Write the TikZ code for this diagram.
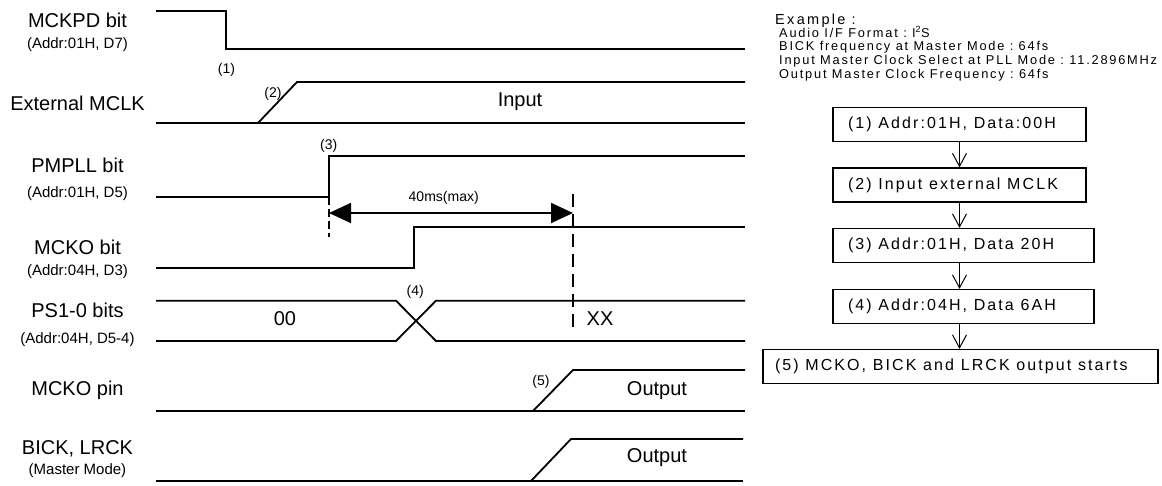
\documentclass[tikz,border=0pt]{standalone}
\usepackage{fontspec}
\setmainfont{Liberation Sans}
\newfontfamily\boxfont[LetterSpace=13]{Liberation Sans}
\newfontfamily\exfont[LetterSpace=14]{Liberation Sans}
\newfontfamily\exhead[LetterSpace=16]{Liberation Sans}
\newcommand\wgap{\hspace{0.42em}\ignorespaces}
\usetikzlibrary{arrows.meta}
\begin{document}
\begin{tikzpicture}[x=1pt,y=-1pt,
  wave/.style={line width=1.8pt},
  lbl/.style={font=\fontsize{20}{24}\selectfont, inner sep=0pt},
  sub/.style={font=\fontsize{15}{18}\selectfont, inner sep=0pt},
  val/.style={font=\fontsize{20}{24}\selectfont, inner sep=0pt},
  num/.style={font=\fontsize{14}{16}\selectfont, inner sep=0pt},
  flowbox/.style={draw, line width=1.2pt, minimum height=34pt, inner xsep=15pt, inner ysep=0pt, align=left, font={\boxfont\fontsize{16}{18}\selectfont}},
  exline/.style={font={\exfont\fontsize{12.8}{14}\selectfont}, inner sep=0pt, anchor=base west},
  flowarrow/.style={line width=1pt, -{Straight Barb[length=13pt,width=14pt]}},
  dimarrow/.style={line width=1.8pt, {Triangle[length=22pt,width=20pt]}-{Triangle[length=22pt,width=20pt]}},
  guide/.style={line width=1.5pt}
]
\useasboundingbox (0,0) rectangle (1162,485);

% ---------- left labels ----------
\node[lbl] (l1) at (77.5,20.8) {MCKPD bit};
\node[sub] (l1s) at (77.5,45) {(Addr:01H, D7)};
\node[lbl] (l2) at (77.5,103.5) {External MCLK};
\node[lbl] (l3) at (77.5,165.5) {PMPLL bit};
\node[sub] (l3s) at (77.5,193.7) {(Addr:01H, D5)};
\node[lbl] (l4) at (77.5,247) {MCKO bit};
\node[sub] (l4s) at (77.5,271.5) {(Addr:04H, D3)};
\node[lbl] (l5) at (77.5,310.5) {PS1-0 bits};
\node[sub] (l5s) at (77.5,339.3) {(Addr:04H, D5-4)};
\node[lbl] (l6) at (77.5,390.5) {MCKO pin};
\node[lbl] (l7) at (77.5,449) {BICK, LRCK};
\node[sub] (l7s) at (77.5,470.5) {(Master Mode)};

% ---------- waveforms ----------
% MCKPD
\draw[wave] (156,10.7) -- (226,10.7) -- (226,49) -- (745,49);
% External MCLK
\draw[wave] (156,123) -- (745,123);
\draw[wave] (258,123) -- (297,82) -- (745,82);
% PMPLL
\draw[wave] (156,197) -- (329,197) -- (329,156) -- (745,156);
% MCKO bit
\draw[wave] (156,268) -- (414,268) -- (414,227) -- (745,227);
% PS1-0
\draw[wave] (156,300.7) -- (396,300.7) -- (436,341) -- (745,341);
\draw[wave] (156,341) -- (396,341) -- (436,300.7) -- (745,300.7);
% MCKO pin
\draw[wave] (156,411) -- (745,411);
\draw[wave] (533,411) -- (573,370) -- (745,370);
% BICK, LRCK
\draw[wave] (156,481) -- (743,481);
\draw[wave] (531,481) -- (571,439) -- (743,439);

% guides and 40ms arrow
\draw[guide, dash pattern=on 8pt off 4pt] (329,197) -- (329,237);
\draw[guide, dash pattern=on 13pt off 7pt] (573,194) -- (573,328);
\coordinate (tA) at (329,213);
\coordinate (tB) at (573,213);
\draw[dimarrow] (tA) -- (tB);

% values
\node[val] (vin) at (520,101.5) {Input};
\node[val] (v00) at (285,319) {00};
\node[val] (vxx) at (600,319) {XX};
\node[val] (vo1) at (657,391) {Output};
\node[val] (vo2) at (657,458) {Output};

% step numbers
\node[num] (n1) at (226.5,70) {(1)};
\node[num] (n2) at (273,93.6) {(2)};
\node[num] (n3) at (328.7,146) {(3)};
\node[num] (n4) at (415.3,291.7) {(4)};
\node[num] (n5) at (541,381.7) {(5)};
\node[num] (t40) at (443.7,198) {40ms(max)};

% ---------- example text ----------
\node[font={\exhead\fontsize{14.5}{16}\selectfont}, inner sep=0pt, anchor=base west] (ex) at (775,24.5) {Example\wgap :};
\node[exline] (e1) at (779,37) {Audio\wgap I/F\wgap Format\wgap :\wgap I\textsuperscript{2}S};
\node[exline] (e2) at (779,50.7) {BICK\wgap frequency\wgap at\wgap Master\wgap Mode\wgap :\wgap 64fs};
\node[exline] (e3) at (779,64.3) {Input\wgap Master\wgap Clock\wgap Select\wgap at\wgap PLL\wgap Mode\wgap :\wgap 11.2896MHz};
\node[exline] (e4) at (779,78.3) {Output\wgap Master\wgap Clock\wgap Frequency\wgap :\wgap 64fs};

% ---------- flowchart ----------
\node[flowbox, text width=223pt] (b1) at (959.5,124.5) {(1)\wgap Addr:01H,\wgap Data:00H};
\node[flowbox, text width=223pt] (b2) at (959.5,185) {(2)\wgap Input\wgap external\wgap MCLK};
\node[flowbox, text width=231pt] (b3) at (963.5,245.5) {(3)\wgap Addr:01H,\wgap Data\wgap 20H};
\node[flowbox, text width=231pt] (b4) at (963.5,306.5) {(4)\wgap Addr:04H,\wgap Data\wgap 6AH};
\node[flowbox, text width=371pt, inner xsep=12pt] (b5) at (960.5,366.5) {(5)\wgap MCKO,\wgap BICK\wgap and\wgap LRCK\wgap output\wgap starts};

\draw[flowarrow] (b1.south) -- (b1.south |- b2.north);
\draw[flowarrow] (b2.south) -- (b2.south |- b3.north);
\draw[flowarrow] (b3.south -| b2.south) -- (b2.south |- b4.north);
\draw[flowarrow] (b4.south -| b2.south) -- (b2.south |- b5.north);
\end{tikzpicture}
\end{document}
